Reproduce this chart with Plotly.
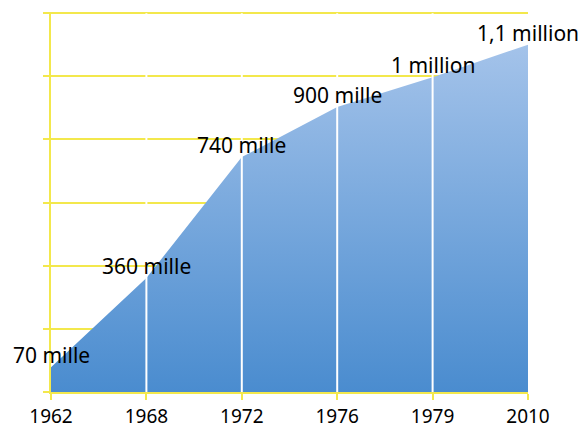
import plotly.graph_objects as go

years = ["1962", "1968", "1972", "1976", "1979", "2010"]
values = [78000, 361000, 744000, 903000, 997000, 1100000]
labels = ["70 mille", "360 mille", "740 mille", "900 mille", "1 million", "1,1 million"]
y_max = 1200000
y_step = 200000

YELLOW = "#f3e84c"
FONT = "Noto Sans"

fig = go.Figure()

fig.add_trace(go.Scatter(
    x=list(range(len(years))), y=values, mode="lines",
    line=dict(width=0, color="rgba(0,0,0,0)"),
    fill="tozeroy",
    fillgradient=dict(type="vertical", start=0, stop=values[-1],
                      colorscale=[[0, "#4a8ccf"], [1, "#a4c3ea"]]),
    hoverinfo="skip", showlegend=False,
))

# white separators at interior categories
vx, vy = [], []
for i in range(1, len(years) - 1):
    vx += [i, i, None]
    vy += [0, y_max, None]
fig.add_trace(go.Scatter(
    x=vx, y=vy, mode="lines", line=dict(color="white", width=2),
    hoverinfo="skip", showlegend=False,
))

for i, (v, t) in enumerate(zip(values, labels)):
    fig.add_annotation(x=i, y=v, text=t, showarrow=False,
                       xanchor="center", yanchor="middle", yshift=12,
                       font=dict(family=FONT, size=21, color="black"))

fig.update_layout(
    width=582, height=427,
    margin=dict(l=51, r=54, t=12, b=35, autoexpand=False),
    paper_bgcolor="white", plot_bgcolor="white",
    font=dict(family=FONT, color="black"),
    xaxis=dict(
        range=[0, len(years) - 1], automargin=False,
        tickmode="array", tickvals=list(range(len(years))), ticktext=years,
        showgrid=False, zeroline=False,
        showline=True, linecolor=YELLOW, linewidth=2,
        ticks="outside", ticklen=6, tickwidth=2, tickcolor=YELLOW,
        tickfont=dict(family=FONT, size=19, color="black"),
        ticklabelstandoff=0,
    ),
    yaxis=dict(
        range=[0, y_max * 1.003], dtick=y_step, tick0=0, automargin=False,
        showgrid=True, gridcolor=YELLOW, gridwidth=2,
        zeroline=False,
        showline=True, linecolor=YELLOW, linewidth=2,
        ticks="outside", ticklen=6, tickwidth=2, tickcolor=YELLOW,
        showticklabels=False,
    ),
)

fig.write_html("out.html")
